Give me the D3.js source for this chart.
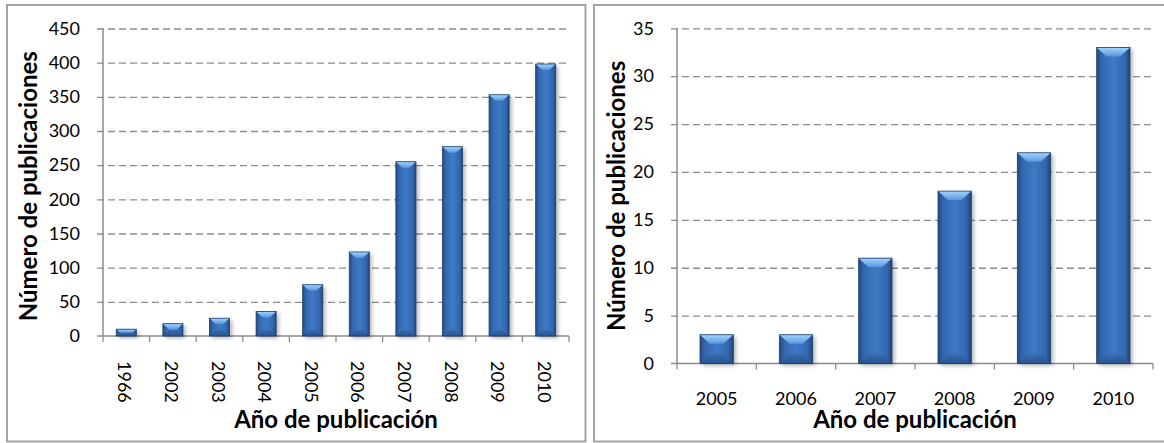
<!DOCTYPE html>
<html>
<head>
<meta charset="utf-8">
<script src="https://cdn.jsdelivr.net/npm/d3@7"></script>
<style>
  html, body { margin: 0; padding: 0; background: #fff; }
  svg { display: block; font-family: Lato, "Open Sans", sans-serif; }
</style>
</head>
<body>
<svg id="chart" width="1164" height="443"></svg>
<script>
// Publicaciones por año (total)
const yearsAll = ["1966", "2002", "2003", "2004", "2005", "2006", "2007", "2008", "2009", "2010"];
const countsAll = [10, 18, 26, 36, 75, 123, 255, 277, 353, 398];
const ticksAll = [0, 50, 100, 150, 200, 250, 300, 350, 400, 450];

// Publicaciones por año (subconjunto 2005-2010)
const yearsSub = ["2005", "2006", "2007", "2008", "2009", "2010"];
const countsSub = [3, 3, 11, 18, 22, 33];
const ticksSub = [0, 5, 10, 15, 20, 25, 30, 35];

const xTitle = "Año de publicación";
const yTitle = "Número de publicaciones";

const svg = d3.select("#chart");
const defs = svg.append("defs");

// Bar body: darker edges, lighter centre
const body = defs.append("linearGradient").attr("id", "barBody")
  .attr("x1", "0").attr("x2", "1").attr("y1", "0").attr("y2", "0");
[["0%", "#22497f"], ["15%", "#3367ad"], ["50%", "#3d7ac6"], ["85%", "#3367ad"], ["100%", "#1f447a"]]
  .forEach(([o, c]) => body.append("stop").attr("offset", o).attr("stop-color", c));

// Top bevel: light blue
const topG = defs.append("linearGradient").attr("id", "barTop")
  .attr("x1", "0").attr("x2", "0").attr("y1", "0").attr("y2", "1");
[["0%", "#a6d4fc"], ["100%", "#5596e0"]]
  .forEach(([o, c]) => topG.append("stop").attr("offset", o).attr("stop-color", c));

// Bottom bevel: darker blue
const botG = defs.append("linearGradient").attr("id", "barBot")
  .attr("x1", "0").attr("x2", "0").attr("y1", "0").attr("y2", "1");
[["0%", "#3569ae"], ["100%", "#284f88"]]
  .forEach(([o, c]) => botG.append("stop").attr("offset", o).attr("stop-color", c));

const blur = defs.append("filter").attr("id", "shadow")
  .attr("x", "-50%").attr("y", "-10%").attr("width", "200%").attr("height", "130%");
blur.append("feGaussianBlur").attr("stdDeviation", 2.2);

const TICK_FONT = 18;
const TITLE_FONT = 24;

function panel(cfg) {
  const g = svg.append("g");

  // Chart frame
  g.append("rect")
    .attr("x", cfg.frame[0]).attr("y", cfg.frame[1])
    .attr("width", cfg.frame[2]).attr("height", cfg.frame[3])
    .attr("fill", "#fff").attr("stroke", "#a3a3a3").attr("stroke-width", 2);

  const x = d3.scaleBand().domain(cfg.cats).range([cfg.left, cfg.right]).paddingInner(0).paddingOuter(0);
  const y = d3.scaleLinear().domain([0, d3.max(cfg.ticks)]).range([cfg.bottom, cfg.top]);

  // Gridlines (dashed) with outward tick stubs on the value axis
  const yAxis = d3.axisLeft(y).tickValues(cfg.ticks).tickSize(-(cfg.right - cfg.left)).tickSizeOuter(0).tickPadding(23);
  const ya = g.append("g").attr("transform", `translate(${cfg.left},0)`).call(yAxis);
  ya.select(".domain").remove();
  ya.selectAll(".tick line")
    .attr("x1", -6)
    .attr("stroke", "#8c8c8c").attr("stroke-width", 1.3)
    .attr("stroke-dasharray", "7,4")
    .filter(d => d === 0).attr("stroke", "none");
  ya.selectAll(".tick text")
    .attr("font-size", TICK_FONT).attr("fill", "#000")
    .attr("font-family", "Lato, sans-serif");

  // Value axis line
  g.append("line")
    .attr("x1", cfg.left).attr("x2", cfg.left)
    .attr("y1", y(d3.max(cfg.ticks))).attr("y2", cfg.bottom)
    .attr("stroke", "#8c8c8c").attr("stroke-width", 1.5);

  // Category axis: line and tick marks at category boundaries
  g.append("line")
    .attr("x1", cfg.left - 6).attr("x2", cfg.right)
    .attr("y1", cfg.bottom).attr("y2", cfg.bottom)
    .attr("stroke", "#8c8c8c").attr("stroke-width", 1.5);
  const bounds = cfg.cats.map(c => x(c)).concat([cfg.right]);
  g.selectAll(".xtick").data(bounds).join("line")
    .attr("x1", d => d).attr("x2", d => d)
    .attr("y1", cfg.bottom).attr("y2", cfg.bottom + 6)
    .attr("stroke", "#8c8c8c").attr("stroke-width", 1.3);

  // Category labels
  const lab = g.selectAll(".xlab").data(cfg.cats).join("text")
    .attr("font-size", TICK_FONT).attr("fill", "#000");
  if (cfg.rotate) {
    lab.attr("transform", d => `translate(${x(d) + x.bandwidth() / 2 - 1},${cfg.bottom + 25}) rotate(90)`)
      .attr("text-anchor", "start").attr("dominant-baseline", "central")
      .text(d => d);
  } else {
    lab.attr("x", d => x(d) + x.bandwidth() / 2).attr("y", cfg.bottom + 41)
      .attr("text-anchor", "middle").text(d => d);
  }

  // Bars
  const bw = x.bandwidth() * cfg.barFrac;
  const bx = d => x(d.c) + (x.bandwidth() - bw) / 2;
  const bars = g.selectAll(".bar").data(cfg.cats.map((c, i) => ({ c, v: cfg.vals[i] }))).join("g");
  bars.append("rect")
    .attr("x", d => bx(d) + 2.5)
    .attr("y", d => y(d.v) + 2)
    .attr("width", bw).attr("height", d => cfg.bottom - y(d.v))
    .attr("fill", "#000").attr("opacity", 0.3)
    .attr("filter", "url(#shadow)");
  bars.append("rect")
    .attr("x", bx)
    .attr("y", d => y(d.v))
    .attr("width", bw).attr("height", d => cfg.bottom - y(d.v))
    .attr("fill", "url(#barBody)");
  const bev = cfg.bevel;
  // bottom chevron
  bars.append("path")
    .attr("d", d => {
      const x0 = bx(d), x1 = x0 + bw, yb = cfg.bottom;
      const h = Math.min(bev, (cfg.bottom - y(d.v)) / 2);
      return `M${x0},${yb}L${x1},${yb}L${x1 - h * 1.1},${yb - h}L${x0 + h * 1.1},${yb - h}Z`;
    })
    .attr("fill", "url(#barBot)").attr("opacity", 0.85);
  // top chevron
  bars.append("path")
    .attr("d", d => {
      const x0 = bx(d), x1 = x0 + bw, yt = y(d.v);
      const h = Math.min(bev, (cfg.bottom - y(d.v)) / 2);
      return `M${x0},${yt}L${x1},${yt}L${x1 - h * 1.1},${yt + h}L${x0 + h * 1.1},${yt + h}Z`;
    })
    .attr("fill", "url(#barTop)");
  bars.append("rect")
    .attr("x", bx)
    .attr("y", d => y(d.v))
    .attr("width", bw).attr("height", d => cfg.bottom - y(d.v))
    .attr("fill", "none").attr("stroke", "#1d3f6e").attr("stroke-width", 0.8);

  // Axis titles
  g.append("text")
    .attr("x", (cfg.left + cfg.right) / 2).attr("y", cfg.xTitleY)
    .attr("text-anchor", "middle").attr("font-size", TITLE_FONT).attr("font-weight", "bold")
    .text(xTitle);
  g.append("text")
    .attr("transform", `translate(${cfg.yTitleX},${(cfg.top + cfg.bottom) / 2 + cfg.yTitleShift}) rotate(-90)`)
    .attr("text-anchor", "middle").attr("font-size", TITLE_FONT).attr("font-weight", "bold")
    .text(yTitle);
}

panel({
  frame: [7, 5, 578.5, 436.5],
  cats: yearsAll, vals: countsAll, ticks: ticksAll,
  left: 103, right: 569, top: 28.5, bottom: 336,
  barFrac: 0.43, bevel: 6, rotate: true,
  xTitleY: 428, yTitleX: 37, yTitleShift: 4
});

panel({
  frame: [594, 5, 580, 436.5],
  cats: yearsSub, vals: countsSub, ticks: ticksSub,
  left: 677, right: 1153, top: 28.3, bottom: 363.5,
  barFrac: 0.42, bevel: 9, rotate: false,
  xTitleY: 428, yTitleX: 625, yTitleShift: 0
});
</script>
</body>
</html>
